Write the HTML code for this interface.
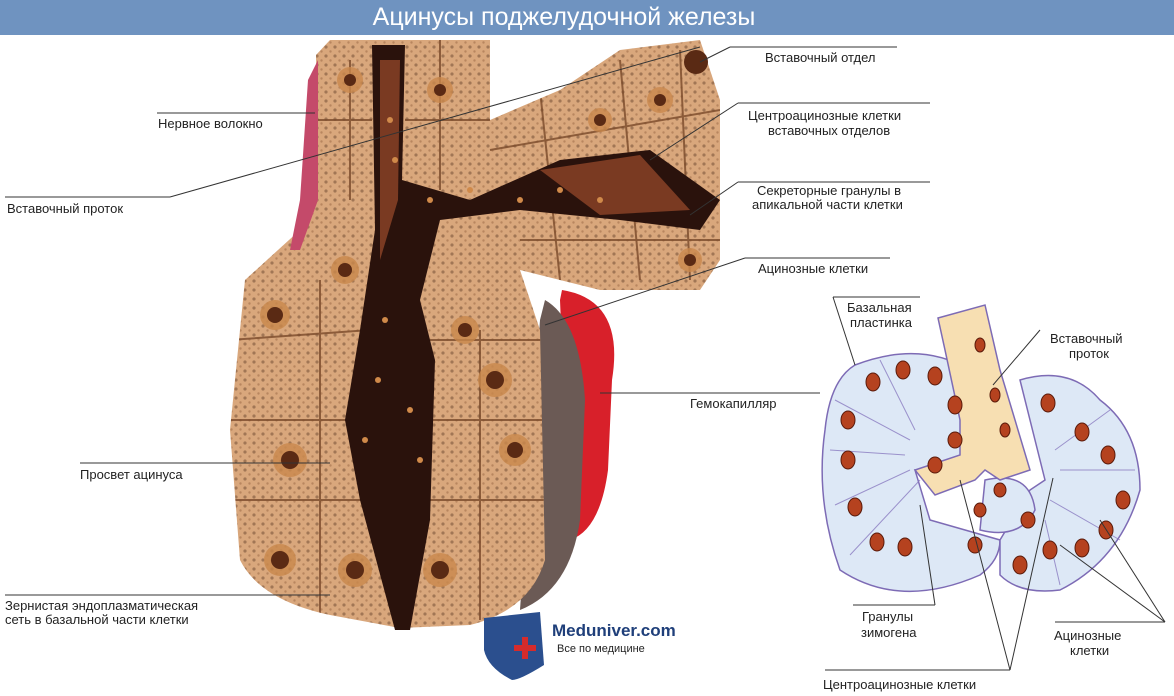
<!DOCTYPE html>
<html><head><meta charset="utf-8"><style>
html,body{margin:0;padding:0;background:#fff;}
svg{display:block}
text{font-family:"Liberation Sans",sans-serif;font-size:13px;fill:#222}
</style></head><body>
<svg width="1174" height="696" viewBox="0 0 1174 696">
<defs>
<pattern id="dots" width="9" height="9" patternUnits="userSpaceOnUse">
<circle cx="2" cy="2" r="1.6" fill="#3a1a0c"/><circle cx="6.5" cy="6.5" r="1.2" fill="#7a4a2a"/>
</pattern>
<clipPath id="blob"><path d="M316 55 L330 40 L490 40 L490 120 L560 90 L620 50 L700 40 L720 100 L720 260 L700 290 L600 290 L520 270 L540 330 L545 560 Q530 610 470 625 L400 628 L330 615 Q260 600 240 560 L230 430 L245 280 L300 230 L318 200Z"/></clipPath>
</defs>
<rect x="0" y="0" width="1174" height="35" fill="#6f93c0"/>
<text x="564" y="25" text-anchor="middle" style="font-size:25px;fill:#fff">Ацинусы поджелудочной железы</text>

<!-- main illustration -->
<path d="M562 290 Q625 300 612 380 L608 470 Q600 530 570 540 L560 300Z" fill="#d8202a"/>
<path d="M545 300 Q580 320 585 400 L580 520 Q570 590 520 610 L540 320Z" fill="#6b5a55"/>
<path d="M316 55 L330 40 L490 40 L490 120 L560 90 L620 50 L700 40 L720 100 L720 260 L700 290 L600 290 L520 270 L540 330 L545 560 Q530 610 470 625 L400 628 L330 615 Q260 600 240 560 L230 430 L245 280 L300 230 L318 200Z" fill="#d9a77c"/>
<g clip-path="url(#blob)">
<rect x="230" y="40" width="500" height="590" fill="url(#dots)" opacity="0.35"/>
<g stroke="#7a4a2a" stroke-width="2" fill="none" opacity="0.8">
<path d="M230 340 L370 330 M230 420 L360 420 M235 500 L370 500 M430 340 L545 340 M430 420 L545 420 M430 500 L545 500"/>
<path d="M320 280 L320 620 M480 330 L480 620 M350 60 L350 200 M440 40 L440 190 M540 90 L560 280 M620 60 L640 280 M680 50 L690 280"/>
<path d="M318 120 L372 120 M405 120 L490 120 M490 150 L720 110 M520 240 L720 240"/>
</g>
</g>
<path d="M318 60 L308 80 L300 200 L290 250 L300 250 L318 200Z" fill="#c44a6a"/>
<path d="M372 45 L405 45 L402 180 L470 200 L560 160 L650 150 L720 200 L700 230 L620 220 L520 210 L440 220 L420 300 L435 360 L430 520 L410 630 L395 630 L360 500 L345 420 L360 330 L375 230Z" fill="#2a120c"/>
<path d="M380 60 L400 60 L398 200 L380 260Z" fill="#7a3a22"/>
<path d="M540 170 L640 155 L690 210 L600 215Z" fill="#7a3a22"/>
<g fill="#d08a4a">
<circle cx="385" cy="320" r="3"/><circle cx="378" cy="380" r="3"/><circle cx="410" cy="410" r="3"/><circle cx="365" cy="440" r="3"/><circle cx="420" cy="460" r="3"/><circle cx="470" cy="190" r="3"/><circle cx="520" cy="200" r="3"/><circle cx="560" cy="190" r="3"/><circle cx="600" cy="200" r="3"/><circle cx="430" cy="200" r="3"/><circle cx="390" cy="120" r="3"/><circle cx="395" cy="160" r="3"/>
</g>
<g fill="#c9884c" opacity="0.8">
<circle cx="275" cy="315" r="15"/><circle cx="290" cy="460" r="17"/><circle cx="280" cy="560" r="16"/>
<circle cx="355" cy="570" r="17"/><circle cx="440" cy="570" r="17"/><circle cx="495" cy="380" r="17"/>
<circle cx="515" cy="450" r="16"/><circle cx="345" cy="270" r="14"/><circle cx="465" cy="330" r="14"/>
<circle cx="440" cy="90" r="13"/><circle cx="350" cy="80" r="13"/><circle cx="660" cy="100" r="13"/><circle cx="600" cy="120" r="12"/><circle cx="690" cy="260" r="12"/>
</g>
<g fill="#5a2a14"><circle cx="275" cy="315" r="8"/><circle cx="290" cy="460" r="9"/><circle cx="280" cy="560" r="9"/><circle cx="355" cy="570" r="9"/><circle cx="440" cy="570" r="9"/><circle cx="495" cy="380" r="9"/><circle cx="515" cy="450" r="8"/><circle cx="696" cy="62" r="12"/><circle cx="345" cy="270" r="7"/><circle cx="465" cy="330" r="7"/><circle cx="440" cy="90" r="6"/><circle cx="350" cy="80" r="6"/><circle cx="660" cy="100" r="6"/><circle cx="600" cy="120" r="6"/><circle cx="690" cy="260" r="6"/></g>

<!-- main labels -->
<g stroke="#333" stroke-width="1" fill="none">
<line x1="730" y1="47" x2="897" y2="47"/><line x1="700" y1="62" x2="730" y2="47"/>
<line x1="738" y1="103" x2="930" y2="103"/><line x1="738" y1="103" x2="650" y2="160"/>
<line x1="738" y1="182" x2="930" y2="182"/><line x1="738" y1="182" x2="690" y2="215"/>
<line x1="745" y1="258" x2="890" y2="258"/><line x1="745" y1="258" x2="545" y2="325"/>
<line x1="157" y1="113" x2="315" y2="113"/>
<line x1="5" y1="197" x2="170" y2="197"/><line x1="170" y1="197" x2="700" y2="47"/>
<line x1="600" y1="393" x2="820" y2="393"/>
<line x1="80" y1="463" x2="330" y2="463"/>
<line x1="5" y1="595" x2="330" y2="595"/>
</g>
<text x="765" y="62">Вставочный отдел</text>
<text x="748" y="120">Центроацинозные клетки</text>
<text x="768" y="135">вставочных отделов</text>
<text x="757" y="195">Секреторные гранулы в</text>
<text x="752" y="209">апикальной части клетки</text>
<text x="758" y="273">Ацинозные клетки</text>
<text x="158" y="128">Нервное волокно</text>
<text x="7" y="213">Вставочный проток</text>
<text x="690" y="408">Гемокапилляр</text>
<text x="80" y="479">Просвет ацинуса</text>
<text x="5" y="610">Зернистая эндоплазматическая</text>
<text x="5" y="624">сеть в базальной части клетки</text>

<!-- logo -->
<path d="M484 618 L540 612 L544 665 Q520 680 512 680 Q488 668 484 650Z" fill="#2b4f8e"/>
<rect x="514" y="645" width="22" height="6" fill="#d62b2b"/><rect x="522" y="637" width="6" height="22" fill="#d62b2b"/>
<text x="552" y="636" style="font-size:17px;font-weight:bold;fill:#1f3f7a">Meduniver.com</text>
<text x="557" y="652" style="font-size:11px">Все по медицине</text>

<!-- right diagram -->
<g stroke="#7d6bb5" stroke-width="1.5">
<path d="M855 365 Q920 340 970 370 L975 440 Q960 470 915 470 L930 520 L1000 540 Q1000 560 980 575 Q900 610 840 570 Q815 500 825 430 Q830 380 855 365Z" fill="#dde8f6"/>
<path d="M1020 380 Q1070 365 1100 400 Q1140 430 1140 490 Q1120 560 1060 590 Q1020 595 1000 575 L1000 540 L1030 490 L1045 480Z" fill="#dde8f6"/>
<path d="M985 480 Q1030 470 1035 510 Q1020 540 980 530 Z" fill="#dde8f6"/>
<path d="M938 318 L985 305 L1000 370 L1030 470 L1000 480 L985 470 L975 480 L935 495 L915 470 L960 455 L960 420 L945 350Z" fill="#f7dfb2"/>
</g>
<g stroke="#8a7ac0" stroke-width="1" fill="none" opacity="0.8">
<path d="M830 450 L905 455 M835 400 L910 440 M880 360 L915 430 M835 505 L910 470 M850 555 L920 480 M1135 470 L1060 470 M1110 410 L1055 450 M1120 540 L1050 500 M1060 585 L1045 520"/>
</g>
<g fill="#b5421f" stroke="#5a1a0a" stroke-width="1">
<ellipse cx="903" cy="370" rx="7" ry="9"/><ellipse cx="935" cy="376" rx="7" ry="9"/><ellipse cx="955" cy="405" rx="7" ry="9"/>
<ellipse cx="873" cy="382" rx="7" ry="9"/><ellipse cx="848" cy="420" rx="7" ry="9"/><ellipse cx="848" cy="460" rx="7" ry="9"/>
<ellipse cx="855" cy="507" rx="7" ry="9"/><ellipse cx="877" cy="542" rx="7" ry="9"/><ellipse cx="905" cy="547" rx="7" ry="9"/>
<ellipse cx="955" cy="440" rx="7" ry="8"/><ellipse cx="935" cy="465" rx="7" ry="8"/><ellipse cx="975" cy="545" rx="7" ry="8"/>
<ellipse cx="1048" cy="403" rx="7" ry="9"/><ellipse cx="1082" cy="432" rx="7" ry="9"/><ellipse cx="1108" cy="455" rx="7" ry="9"/>
<ellipse cx="1123" cy="500" rx="7" ry="9"/><ellipse cx="1106" cy="530" rx="7" ry="9"/><ellipse cx="1082" cy="548" rx="7" ry="9"/>
<ellipse cx="1050" cy="550" rx="7" ry="9"/><ellipse cx="1020" cy="565" rx="7" ry="9"/><ellipse cx="1028" cy="520" rx="7" ry="8"/>
<ellipse cx="1000" cy="490" rx="6" ry="7"/><ellipse cx="980" cy="510" rx="6" ry="7"/>
<ellipse cx="980" cy="345" rx="5" ry="7"/><ellipse cx="995" cy="395" rx="5" ry="7"/><ellipse cx="1005" cy="430" rx="5" ry="7"/>
</g>
<g stroke="#333" stroke-width="1" fill="none">
<line x1="833" y1="297" x2="920" y2="297"/><line x1="833" y1="297" x2="855" y2="365"/>
<line x1="1040" y1="330" x2="993" y2="385"/>
<line x1="853" y1="605" x2="935" y2="605"/><line x1="935" y1="605" x2="920" y2="505"/>
<line x1="825" y1="670" x2="1010" y2="670"/><line x1="1010" y1="670" x2="960" y2="480"/><line x1="1010" y1="670" x2="1053" y2="478"/>
<line x1="1055" y1="622" x2="1165" y2="622"/><line x1="1165" y1="622" x2="1060" y2="545"/><line x1="1165" y1="622" x2="1100" y2="520"/>
</g>
<text x="847" y="312">Базальная</text><text x="850" y="327">пластинка</text>
<text x="1050" y="343">Вставочный</text><text x="1069" y="358">проток</text>
<text x="862" y="621">Гранулы</text><text x="861" y="637">зимогена</text>
<text x="1054" y="640">Ацинозные</text><text x="1070" y="655">клетки</text>
<text x="823" y="689">Центроацинозные клетки</text>
</svg>
</body></html>
